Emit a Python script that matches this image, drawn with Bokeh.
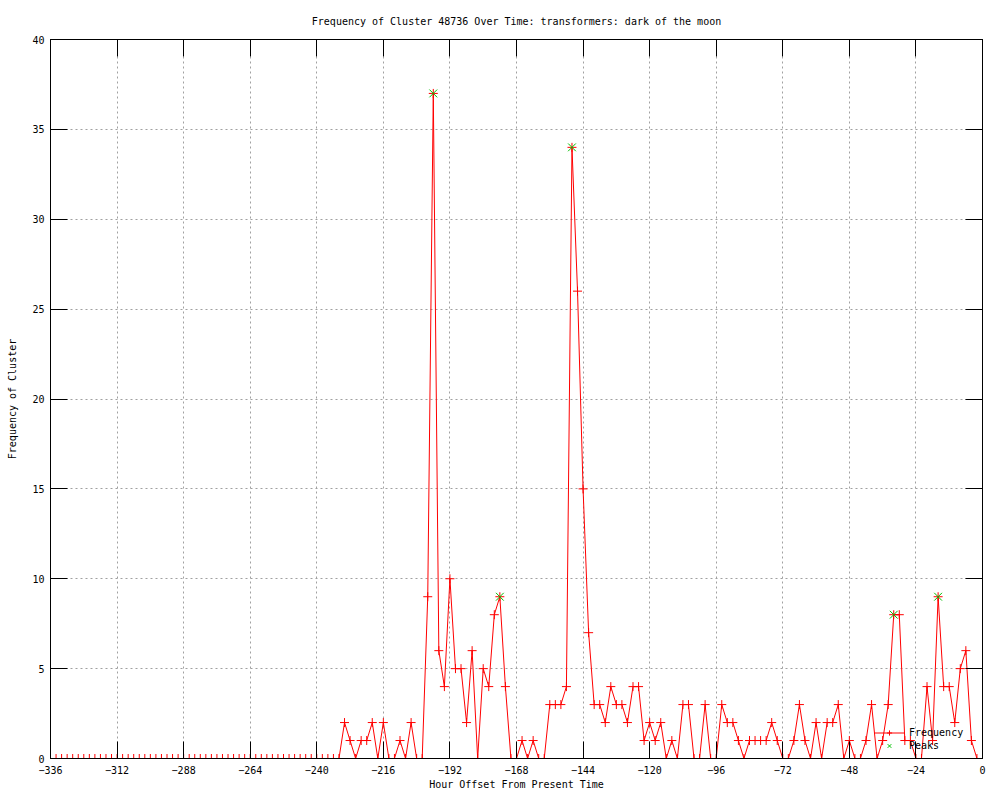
from bokeh.plotting import figure
from bokeh.models import (SingleIntervalTicker, LinearAxis, CustomJSTickFormatter,
                          Legend, LegendItem, Range1d, Title)
from bokeh.embed import file_html
from bokeh.resources import INLINE

# ---- data ----
hours = list(range(-336, 0, 2))
freq = ([0] * 53 +
        [2, 1, 0, 1, 1, 2, 0, 2, 0, 0, 1, 0, 2, 0, 0,          # -230 .. -202
         9, 37, 6, 4, 10, 5, 5, 2, 6, 0, 5, 4, 8, 9, 4,       # -200 .. -172
         0, 0, 1, 0, 1, 0, 0, 3, 3, 3, 4, 34, 26, 15, 7,      # -170 .. -142
         3, 3, 2, 4, 3, 3, 2, 4, 4, 1, 2, 1, 2, 0, 1,         # -140 .. -112
         0, 3, 3, 0, 0, 3, 0, 0, 3, 2, 2, 1, 0, 1, 1,         # -110 .. -82
         1, 1, 2, 1, 0, 0, 1, 3, 1, 0, 2, 0, 2, 2, 3,         # -80 .. -52
         0, 1, 0, 0, 1, 3, 0, 1, 3, 8, 8, 1, 1, 0, 0,         # -50 .. -22
         4, 1, 9, 4, 4, 2, 5, 6, 1, 0])                       # -20 .. -2
peak_hours = [-198, -174, -148, -32, -16]
peak_values = [37, 9, 34, 8, 9]

title_text = "Frequency of Cluster 48736 Over Time: transformers: dark of the moon"
x_label = "Hour Offset From Present Time"
y_label = "Frequency of Cluster"

FONT = "DejaVu Sans Mono"

p = figure(width=992, height=792, output_backend="svg", toolbar_location=None,
           title=None,
           x_range=Range1d(-336, 0), y_range=Range1d(0, 40),
           min_border_left=50, min_border_right=10, min_border_top=39,
           min_border_bottom=32,
           x_axis_label=x_label, y_axis_label=y_label)

p.background_fill_color = "white"
p.border_fill_color = "white"
p.outline_line_color = "black"
p.outline_line_width = 1
p.outline_line_alpha = 1

xt = SingleIntervalTicker(interval=24, num_minor_ticks=0)
yt = SingleIntervalTicker(interval=5, num_minor_ticks=0)

for ax, tk in ((p.xaxis[0], xt), (p.yaxis[0], yt)):
    ax.ticker = tk
    ax.major_tick_in = 17
    ax.major_tick_out = 0
    ax.minor_tick_line_color = None
    ax.axis_line_color = "black"
    ax.major_tick_line_color = "black"
    ax.major_label_text_font = FONT
    ax.major_label_text_font_size = "10px"
    ax.major_label_text_color = "black"
    ax.axis_label_text_font = FONT
    ax.axis_label_text_font_size = "10px"
    ax.axis_label_text_font_style = "normal"
    ax.axis_label_text_color = "black"

p.xaxis[0].major_label_standoff = 7
p.xaxis[0].axis_label_standoff = 2
p.yaxis[0].major_label_standoff = 6
p.yaxis[0].axis_label_standoff = 11

p.xgrid.ticker = xt
p.ygrid.ticker = yt
for g in (p.xgrid, p.ygrid):
    g.grid_line_color = "#a0a0a0"
    g.grid_line_dash = "2 3"
    g.grid_line_width = 1

blank = CustomJSTickFormatter(code="return ''")
top_axis = LinearAxis(ticker=xt, formatter=blank, major_tick_in=17, major_tick_out=0,
                      minor_tick_line_color=None, major_label_standoff=0,
                      axis_line_color="black", major_label_text_font_size="1px")
right_axis = LinearAxis(ticker=yt, formatter=blank, major_tick_in=17, major_tick_out=0,
                        minor_tick_line_color=None, major_label_standoff=0,
                        axis_line_color="black", major_label_text_font_size="1px")
p.add_layout(top_axis, "above")
p.add_layout(right_axis, "right")

p.add_layout(Title(text=title_text, align="center", text_font=FONT,
                   text_font_size="10px", text_font_style="normal",
                   text_color="black", standoff=25), "above")

line_r = p.line(hours, freq, line_color="red", line_width=1)
pts_r = p.scatter(hours, freq, marker="cross", size=9, line_color="red", line_width=1)
peak_r = p.scatter(peak_hours, peak_values, marker="x", size=11,
                   line_color="#00c000", line_width=1)

legend = Legend(items=[LegendItem(label="Frequency", renderers=[line_r, pts_r]),
                       LegendItem(label="Peaks", renderers=[peak_r])],
                location=(822, 4), label_text_font=FONT, label_text_font_size="10px",
                label_text_color="black", glyph_width=30, glyph_height=13,
                label_height=13, spacing=0, padding=2, margin=0, label_standoff=5,
                background_fill_alpha=0, border_line_alpha=0)
p.add_layout(legend)

open("out.html", "w").write(file_html(p, INLINE))
